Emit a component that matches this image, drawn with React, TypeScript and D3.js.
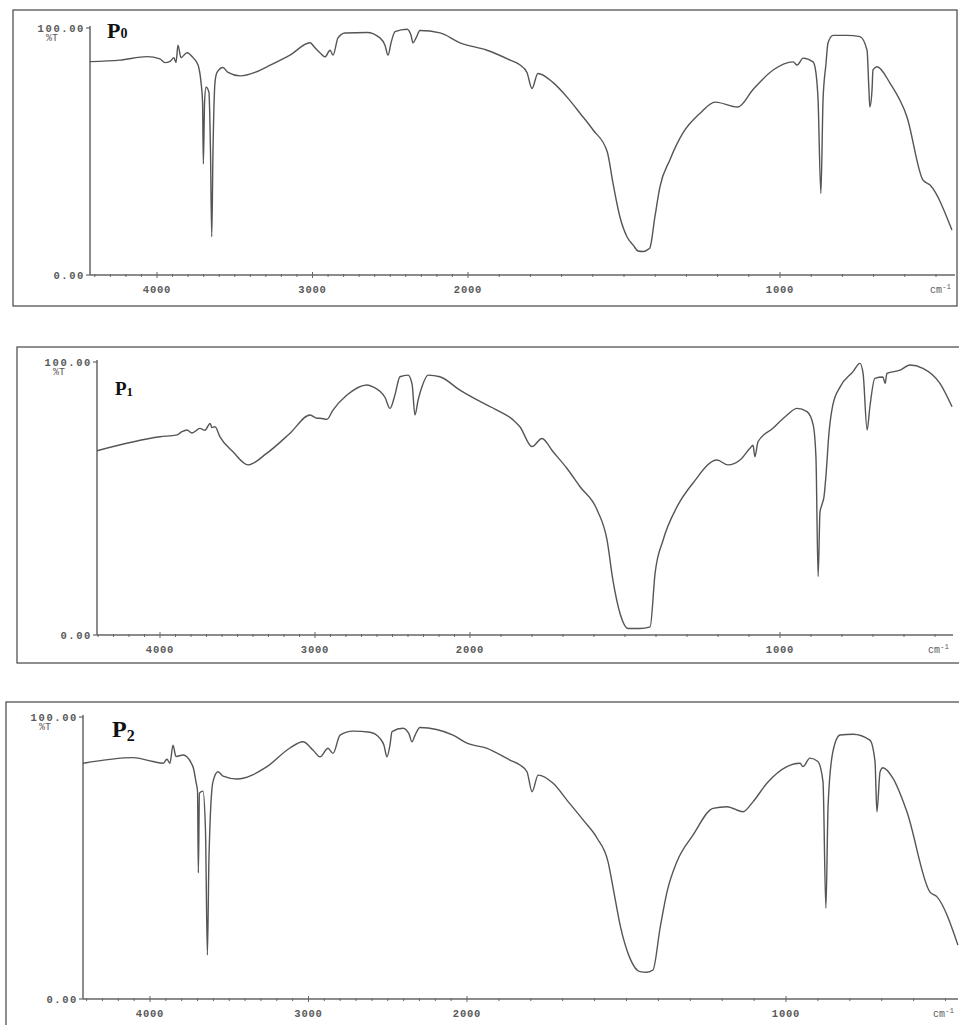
import React from "react";
import * as d3 from "d3";

// ---------- DATA (wavenumber cm-1, %T) ----------
const P0_WAVENUMBER = [4431,4238,4064,3981,3949,3916,3891,3878,3865,3846,3807,3768,3736,3717,3707,3702,3694,3685,3666,3656,3648,3640,3627,3614,3576,3543,3466,3370,3293,3145,3016,2984,2952,2920,2887,2868,2836,2791,2649,2566,2534,2514,2495,2469,2392,2366,2354,2334,2309,2180,2051,1939,1865,1833,1811,1795,1776,1728,1679,1641,1599,1554,1535,1513,1490,1470,1455,1440,1425,1417,1401,1385,1353,1311,1256,1208,1135,1087,1022,958,945,926,894,885,878,869,862,853,846,830,785,744,721,715,712,705,702,689,647,593,542,519,449];
const P0_TRANSMITTANCE = [86.4,87,88.4,87.5,86,86.5,88,86,93,88,90,88,85,78,70,45,70,76,74,50,15.5,50,78,82,84,82,80.6,82,84.3,89,94,92,90,88.3,91,89,96,98,98.2,96,93,89,94,98.5,99.5,97,94,96,99,98,94,91,87,85,82,75.5,81.6,78,71.5,65.5,58.7,50,37,23.5,15.4,12,9.7,9.5,10.2,11,23.5,35.6,46.6,57.5,65.5,70,68,75,83,86.3,85,87.8,86.3,82,70.8,33,71,85,94,97,97,96.5,91,75,68,75,83,84.3,77.6,64,38.5,36.4,18.2];

const P1_WAVENUMBER = [4406,4000,3890,3858,3826,3794,3742,3710,3677,3665,3645,3613,3529,3432,3310,3161,3032,2987,2968,2923,2884,2794,2664,2626,2548,2516,2484,2452,2400,2374,2355,2335,2310,2271,2194,2065,1977,1913,1861,1839,1800,1768,1732,1687,1645,1590,1558,1539,1516,1490,1452,1419,1403,1377,1332,1281,1203,1168,1129,1097,1087,1081,1071,1023,977,945,913,893,884,877,871,864,858,852,842,830,806,765,742,732,719,710,694,668,661,655,613,581,539,484,445];
const P1_TRANSMITTANCE = [67.5,72.6,73.3,74.5,75.1,74,75.7,75,77.5,76,76.3,72.6,67.1,62.3,66.6,73.9,80.6,79.4,79.4,79,82.4,87.9,91.6,90.9,87,83,88,94.6,95.2,92,80.6,86,90.9,95.2,94.6,89.7,86.1,82.4,78.8,76.3,69,72,67.1,61,54.3,45.8,34.8,20.1,7.9,2.4,2.4,3,22.6,34.8,47,55.6,64.1,62.3,64.1,68.4,69.5,65.3,70.8,75.7,80.6,83,81.8,77,65,21.4,45,48,50.7,58,74,84,90.9,96.4,99.5,95.8,75.1,83.6,94,94.5,92.2,95.8,97,98.9,97.7,92.2,83.6];

const P2_WAVENUMBER = [4423,4107,3981,3918,3893,3874,3855,3836,3792,3729,3710,3700,3695,3688,3666,3650,3638,3628,3603,3571,3539,3451,3262,3117,3035,2972,2927,2877,2845,2801,2719,2612,2549,2524,2505,2486,2473,2404,2366,2347,2328,2297,2088,2000,1937,1865,1834,1812,1796,1777,1730,1683,1636,1592,1558,1542,1520,1489,1458,1436,1417,1395,1373,1342,1291,1229,1185,1135,1103,1060,997,956,947,925,900,884,875,868,853,831,790,737,721,715,705,696,665,621,549,527,461];
const P2_TRANSMITTANCE = [83.6,85.6,84.2,83.6,85,83.6,90,86,86.5,82.4,77,73.5,44.7,73,73.7,60,15.6,50,77,80.6,79,78,82.4,89,91.2,88.3,85.9,88.9,87.1,93.6,95,94.6,92.4,90,85.9,90,94.8,96,94,91.2,93.5,96.3,93.6,90.7,88.9,84.7,83,80.6,73.5,79.4,76.5,70,63.5,57,48.7,39.4,26.2,14.4,9.7,9.5,10.3,25,38,48.7,58.2,67.6,68.2,66.4,70,76.5,82.4,83.6,82.4,85.4,84.2,77,32.2,68.8,87.7,93.6,93.9,91.8,84.2,66.4,80.6,82,78.3,66.4,38,36.3,19.1];

const X_TICK_LABELS = [4000, 3000, 2000, 1000];
const Y_TICK_LABELS = ["100.00", "0.00"];
const PANEL_NAMES = ["0", "1", "2"];

// ---------- LAYOUT ----------
const panels = [
  { wn: P0_WAVENUMBER, t: P0_TRANSMITTANCE, name: PANEL_NAMES[0],
    frame: { x: 13, y: 10, w: 944, h: 296 },
    axisX: 90, axisEnd: 955, x4000: 157, x2000: 468, x1000: 780, yTop: 28, yBot: 275,
    label: { x: 107, y: 38, size: 22, sub: 14, dy: 0 } },
  { wn: P1_WAVENUMBER, t: P1_TRANSMITTANCE, name: PANEL_NAMES[1],
    frame: { x: 17, y: 347, w: 950, h: 316 },
    axisX: 97, axisEnd: 953, x4000: 160, x2000: 470, x1000: 780, yTop: 362, yBot: 635,
    label: { x: 115, y: 395, size: 19, sub: 13, dy: 1 } },
  { wn: P2_WAVENUMBER, t: P2_TRANSMITTANCE, name: PANEL_NAMES[2],
    frame: { x: 6, y: 702, w: 960, h: 340 },
    axisX: 83, axisEnd: 958, x4000: 150, x2000: 467, x1000: 786, yTop: 717, yBot: 999,
    label: { x: 112, y: 737, size: 24, sub: 16, dy: 4 } },
];

const AXIS_COLOR = "#666";
const TEXT_COLOR = "#5a5a5a";
const LINE_COLOR = "#555";
const MONO = "'Liberation Mono', 'DejaVu Sans Mono', monospace";

function Panel({ p }: { p: any }) {
  const x = d3.scaleLinear().domain([4000, 2000, 1000]).range([p.x4000, p.x2000, p.x1000]);
  const y = d3.scaleLinear().domain([0, 100]).range([p.yBot, p.yTop]);
  const data = p.wn.map((w: number, i: number) => [w, p.t[i]] as [number, number]);
  const line = d3.line<[number, number]>().x(d => x(d[0])).y(d => y(d[1])).curve(d3.curveMonotoneX);
  const minorTicks = d3.range(4400, 400, -100);
  const startWn = x.invert(p.axisX);
  const endWn = x.invert(p.axisEnd);
  return (
    <g>
      <rect x={p.frame.x} y={p.frame.y} width={p.frame.w} height={p.frame.h} fill="none" stroke="#444" strokeWidth={1.2} />
      {/* y axis */}
      <line x1={p.axisX} x2={p.axisX} y1={y(100) - 2} y2={y(0)} stroke={AXIS_COLOR} strokeWidth={1.5} />
      {[100, 0].map((v) => (
        <line key={v} x1={p.axisX - 4} x2={p.axisX} y1={y(v)} y2={y(v)} stroke={AXIS_COLOR} strokeWidth={1.2} />
      ))}
      <text x={p.axisX - 5} y={y(100) + 3.5} textAnchor="end" fontFamily={MONO} fontWeight="bold" fontSize={10.5} letterSpacing={1.6} fill={TEXT_COLOR}>{Y_TICK_LABELS[0]}</text>
      <text x={p.axisX - 38} y={y(100) + 13} textAnchor="middle" fontFamily={MONO} fontSize={10} fill={TEXT_COLOR}>%T</text>
      <text x={p.axisX - 5} y={y(0) + 3.5} textAnchor="end" fontFamily={MONO} fontWeight="bold" fontSize={10.5} letterSpacing={1.6} fill={TEXT_COLOR}>{Y_TICK_LABELS[1]}</text>
      {/* x axis */}
      <line x1={p.axisX} x2={p.axisEnd} y1={y(0)} y2={y(0)} stroke={AXIS_COLOR} strokeWidth={1.5} />
      {minorTicks.filter((w: number) => w <= startWn && w >= endWn).map((w: number) => (
        <line key={w} x1={x(w)} x2={x(w)} y1={y(0) - (w % 1000 === 0 ? 3 : 1)} y2={y(0) + (w % 1000 === 0 ? 3 : 2)} stroke={AXIS_COLOR} strokeWidth={1} />
      ))}
      {X_TICK_LABELS.map((w) => (
        <text key={w} x={x(w)} y={y(0) + 18} textAnchor="middle" fontFamily={MONO} fontWeight="bold" fontSize={10.5} letterSpacing={0.8} fill={TEXT_COLOR}>{w}</text>
      ))}
      <text x={p.axisEnd - 4} y={y(0) + 18} textAnchor="end" fontFamily={MONO} fontSize={10} fill={TEXT_COLOR}>
        cm<tspan dy={-4} fontSize={7.5}>-1</tspan>
      </text>
      {/* spectrum */}
      <path d={line(data) || ""} fill="none" stroke={LINE_COLOR} strokeWidth={1.4} strokeLinejoin="round" />
      {/* panel label */}
      <text x={p.label.x} y={p.label.y} fontFamily="'Liberation Serif', 'Times New Roman', serif" fontWeight="bold" fontSize={p.label.size} fill="#111">
        P<tspan dy={p.label.dy} fontSize={p.label.sub}>{p.name}</tspan>
      </text>
    </g>
  );
}

export default function App() {
  return (
    <svg width={959} height={1025} style={{ position: "absolute", left: 0, top: 0, background: "#fff" }}>
      <rect x={0} y={0} width={959} height={1025} fill="#fff" />
      {panels.map((p, i) => <Panel key={i} p={p} />)}
    </svg>
  );
}
